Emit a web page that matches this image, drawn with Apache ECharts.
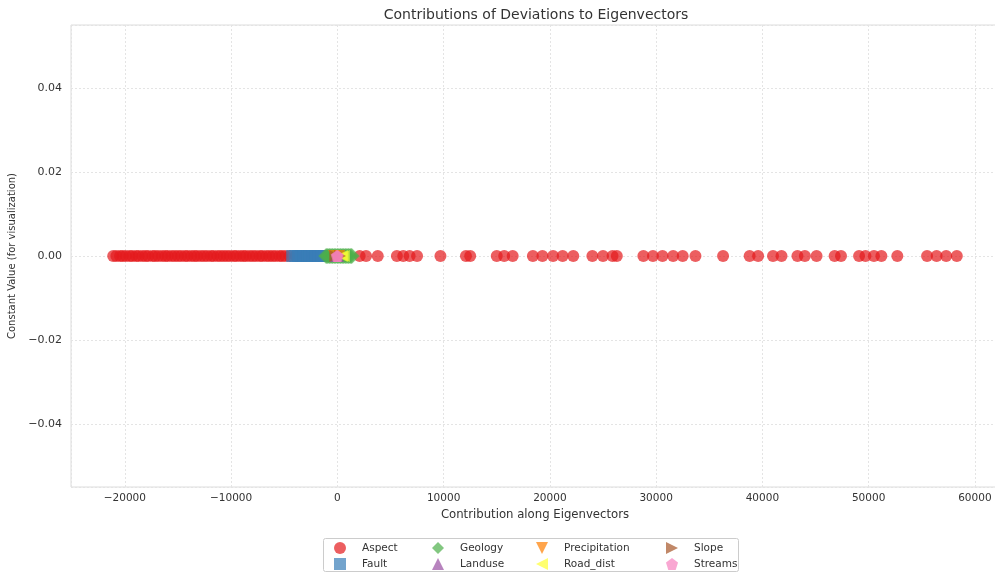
<!DOCTYPE html>
<html>
<head>
<meta charset="utf-8">
<script src="https://cdn.jsdelivr.net/npm/echarts@6/dist/echarts.min.js"></script>
<style>
  html, body { margin: 0; padding: 0; background: #ffffff; }
  #chart { width: 995px; height: 573px; }
</style>
</head>
<body>
<div id="chart"></div>
<script>
// Contribution of each deviation variable along the eigenvectors (y is a constant 0)
const categories = ['Aspect', 'Fault', 'Geology', 'Landuse', 'Precipitation', 'Road_dist', 'Slope', 'Streams'];

const aspect = [
  -21100, -20800, -20450, -20200, -19900, -19550, -19300, -18950, -18700, -18350,
  -18050, -17800, -17400, -17150, -16850, -16500, -16200, -15950, -15600, -15300,
  -15000, -14700, -14350, -14100, -13750, -13450, -13200, -12850, -12550, -12250,
  -11900, -11650, -11300, -11000, -10700, -10400, -10100, -9750, -9500, -9150,
  -8850, -8600, -8250, -7950, -7650, -7300, -7050, -6700, -6400, -6100,
  -5800, -5450, -5200, -4900, -4500, -3900, -3100, -2300,
  2100, 2700, 3800, 5600, 6200, 6800, 7500, 9700, 12100, 12500,
  15000, 15700, 16500, 18400, 19300, 20300, 21200, 22200, 24000, 25000,
  25900, 26300, 28800, 29700, 30600, 31600, 32500, 33700, 36300, 38800,
  39600, 41000, 41800, 43300, 44000, 45100, 46800, 47400, 49100, 49700,
  50500, 51200, 52700, 55500, 56400, 57300, 58300
];
const fault = [-4250, -3950, -3700, -3400, -3150, -2850, -2600, -2300, -2050, -1750, -1500, -1200, -950, -700];
const geology = [-1050, -900, -750, -600, -450, -300, -150, 0, 150, 300, 450, 600, 750, 900, 1050, 1200, 1350];
const landuse = [-150, 60];
const precipitation = [-300, 180];
const roadDist = [420, 600];
const slope = [-200, 250];
const streams = [-60, 40];

const valuesByCategory = [aspect, fault, geology, landuse, precipitation, roadDist, slope, streams];

const colors = ['#e41a1c', '#377eb8', '#4daf4a', '#984ea3', '#ff7f00', '#ffff33', '#a65628', '#f781bf'];
const symbols = [
  'circle',
  'rect',
  'diamond',
  'triangle',
  'path://M0,0L10,0L5,10Z',
  'path://M0,5L10,0L10,10Z',
  'path://M0,0L10,5L0,10Z',
  'path://M5,0L10,3.8L8.1,10L1.9,10L0,3.8Z'
];
const sizes = [12, 12, 16, 12, 12, 12, 12, 12];

const fmtMinus = s => s.replace('-', '\u2212');

const series = categories.map((name, i) => ({
  name: name,
  type: 'scatter',
  symbol: symbols[i],
  symbolSize: sizes[i],
  itemStyle: { color: colors[i], opacity: 0.7 },
  data: valuesByCategory[i].map(v => [v, 0]),
  z: 2 + i
}));

// legend laid out in 4 columns of 2 rows
const legendCols = [334, 432, 536, 666];
const legends = legendCols.map((left, c) => ({
  orient: 'vertical',
  left: left,
  top: 542,
  padding: 0,
  itemWidth: 12,
  itemHeight: 12,
  itemGap: 4,
  data: categories.slice(c * 2, c * 2 + 2),
  textStyle: { fontFamily: 'DejaVu Sans', fontSize: 10.5, color: '#333', padding: [0, 0, 0, 11] }
}));

const chart = echarts.init(document.getElementById('chart'), null, { renderer: 'canvas' });
chart.setOption({
  animation: false,
  backgroundColor: '#ffffff',
  title: {
    text: 'Contributions of Deviations to Eigenvectors',
    left: 531,
    textAlign: 'center',
    top: 3,
    textStyle: { fontFamily: 'DejaVu Sans', fontSize: 14, fontWeight: 'normal', color: '#333' }
  },
  legend: legends,
  grid: {
    left: 71, right: -4, top: 25, bottom: 86,
    outerBoundsMode: 'none',
    containLabel: false,
    show: true, borderColor: '#dcdcdc', borderWidth: 1, backgroundColor: 'transparent'
  },
  xAxis: {
    type: 'value',
    min: -25070,
    max: 62270,
    splitNumber: 8,
    name: 'Contribution along Eigenvectors',
    nameLocation: 'middle',
    nameGap: 21,
    nameTextStyle: { fontFamily: 'DejaVu Sans', fontSize: 11.7, color: '#333' },
    axisLine: { show: false },
    axisTick: { show: false },
    axisLabel: {
      margin: 6,
      showMinLabel: false,
      showMaxLabel: false,
      fontFamily: 'DejaVu Sans', fontSize: 10.5, color: '#333',
      formatter: v => fmtMinus(String(Math.round(v)))
    },
    splitLine: { show: true, lineStyle: { color: '#e4e4e4', type: [2, 2], width: 1 } }
  },
  yAxis: {
    type: 'value',
    min: -0.055,
    max: 0.055,
    splitNumber: 5,
    name: 'Constant Value (for visualization)',
    nameLocation: 'middle',
    nameGap: 51,
    nameTextStyle: { fontFamily: 'DejaVu Sans', fontSize: 10, color: '#333' },
    axisLine: { show: false },
    axisTick: { show: false },
    axisLabel: {
      margin: 9,
      showMinLabel: false,
      showMaxLabel: false,
      fontFamily: 'DejaVu Sans', fontSize: 11, color: '#333',
      formatter: v => fmtMinus(v.toFixed(2))
    },
    splitLine: { show: true, lineStyle: { color: '#e4e4e4', type: [2, 2], width: 1 } }
  },
  graphic: [{
    type: 'rect',
    shape: { x: 323.5, y: 538.5, width: 415, height: 33, r: 2 },
    style: { fill: '#ffffff', stroke: '#cccccc', lineWidth: 1 },
    z: -1
  }],
  series: series
});
</script>
</body>
</html>
